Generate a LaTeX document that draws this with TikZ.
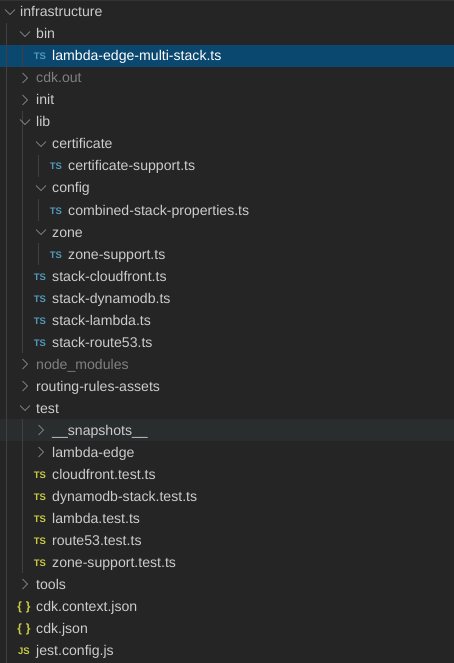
\documentclass[tikz,border=0pt]{standalone}
\usepackage{fontspec}
\setmainfont{Liberation Sans}
\definecolor{panel}{HTML}{252526}
\definecolor{topline}{HTML}{333333}
\definecolor{sel}{HTML}{0B4870}
\definecolor{hov}{HTML}{2A2D2E}
\definecolor{txt}{HTML}{CCCCCC}
\definecolor{dim}{HTML}{808080}
\definecolor{guide}{HTML}{404040}
\definecolor{tsblue}{HTML}{519ABA}
\definecolor{tsyel}{HTML}{CBCB41}
\tikzset{x=1pt,y=-1pt,
  label/.style={anchor=base west,inner sep=0pt,text=txt,font=\fontsize{14.1}{16}\selectfont},
  dimlabel/.style={label,text=dim},
  sellabel/.style={label,text=white},
  badge/.style={anchor=base,inner sep=0pt,font=\fontsize{9.5}{12}\bfseries\selectfont},
  tsb/.style={badge,text=tsblue},
  tsy/.style={badge,text=tsyel},
  jsn/.style={badge,text=tsyel,font=\fontsize{12}{12}\bfseries\selectfont},
  chev/.style={draw=txt!80!black,line width=0.6pt},
  guideline/.style={draw=guide,line width=0.7pt}}
\newcommand{\opn}[2]{\draw[chev] (#1-5,#2-2.5) -- (#1,#2+2.5) -- (#1+5,#2-2.5);}
\newcommand{\clsd}[2]{\draw[chev] (#1-2.5,#2-5) -- (#1+2.5,#2) -- (#1-2.5,#2+5);}
\begin{document}
\begin{tikzpicture}
\useasboundingbox (0,0) rectangle (454,663);
\fill[panel] (0,0) rectangle (454,663);
\fill[topline] (0,0) rectangle (454,1);
\fill[sel] (0,45) rectangle (454,67);
\fill[hov] (0,419) rectangle (454,441);
% guides
\draw[guideline] (6.5,23) -- (6.5,663);
\draw[guideline] (22.5,45) -- (22.5,67);
\draw[guideline] (22.5,111) -- (22.5,353);
\draw[guideline] (22.5,419) -- (22.5,573);
\draw[guideline] (38.5,155) -- (38.5,177);
\draw[guideline] (38.5,199) -- (38.5,221);
\draw[guideline] (38.5,243) -- (38.5,265);
% chevrons
\opn{10}{12}\opn{25}{34}\clsd{25}{78}\clsd{25}{100}\opn{25}{122}
\opn{41}{144}\opn{41}{188}\opn{41}{232}
\clsd{25}{364}\clsd{25}{386}\opn{25}{408}\clsd{41}{430}\clsd{41}{452}\clsd{25}{584}
% rows
\node[label] (n0) at (20,17) {infrastructure};
\node[label] (n1) at (36,39) {bin};
\node[tsb] (i2) at (40,60) {TS};
\node[sellabel] (n2) at (52,61) {lambda-edge-multi-stack.ts};
\node[dimlabel] (n3) at (36,83) {cdk.out};
\node[label] (n4) at (36,105) {init};
\node[label] (n5) at (36,127) {lib};
\node[label] (n6) at (52,149) {certificate};
\node[tsb] (i7) at (56,170) {TS};
\node[label] (n7) at (68,171) {certificate-support.ts};
\node[label] (n8) at (52,193) {config};
\node[tsb] (i9) at (56,214) {TS};
\node[label] (n9) at (68,215) {combined-stack-properties.ts};
\node[label] (n10) at (52,237) {zone};
\node[tsb] (i11) at (56,258) {TS};
\node[label] (n11) at (68,259) {zone-support.ts};
\node[tsb] (i12) at (40,280) {TS};
\node[label] (n12) at (52,281) {stack-cloudfront.ts};
\node[tsb] (i13) at (40,302) {TS};
\node[label] (n13) at (52,303) {stack-dynamodb.ts};
\node[tsb] (i14) at (40,324) {TS};
\node[label] (n14) at (52,325) {stack-lambda.ts};
\node[tsb] (i15) at (40,346) {TS};
\node[label] (n15) at (52,347) {stack-route53.ts};
\node[dimlabel] (n16) at (36,369) {node\_modules};
\node[label] (n17) at (36,391) {routing-rules-assets};
\node[label] (n18) at (36,413) {test};
\node[label] (n19) at (52,435) {\_\_snapshots\_\_};
\node[label] (n20) at (52,457) {lambda-edge};
\node[tsy] (i21) at (40,478) {TS};
\node[label] (n21) at (52,479) {cloudfront.test.ts};
\node[tsy] (i22) at (40,500) {TS};
\node[label] (n22) at (52,501) {dynamodb-stack.test.ts};
\node[tsy] (i23) at (40,522) {TS};
\node[label] (n23) at (52,523) {lambda.test.ts};
\node[tsy] (i24) at (40,544) {TS};
\node[label] (n24) at (52,545) {route53.test.ts};
\node[tsy] (i25) at (40,566) {TS};
\node[label] (n25) at (52,567) {zone-support.test.ts};
\node[label] (n26) at (36,589) {tools};
\node[jsn] (i27) at (24,610) {\{\,\,\}};
\node[label] (n27) at (36,611) {cdk.context.json};
\node[jsn] (i28) at (24,632) {\{\,\,\}};
\node[label] (n28) at (36,633) {cdk.json};
\node[tsy] (i29) at (24,654) {JS};
\node[label] (n29) at (36,655) {jest.config.js};
\end{tikzpicture}
\end{document}
